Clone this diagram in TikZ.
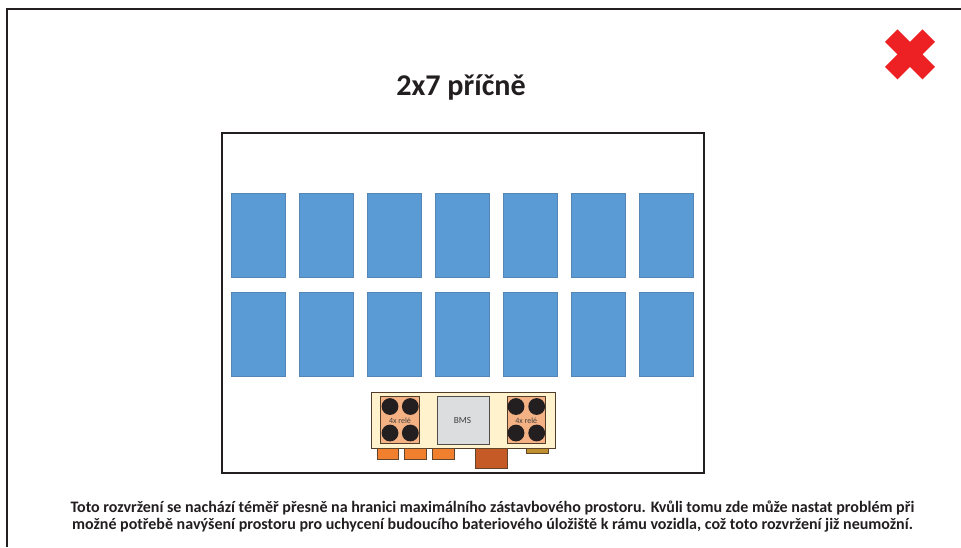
\documentclass[tikz,border=0pt]{standalone}
\usepackage{fontspec}
\setmainfont{Carlito}
\definecolor{frameblack}{HTML}{231F20}
\definecolor{cellblue}{HTML}{5B9BD5}
\definecolor{celledge}{HTML}{5585B5}
\definecolor{cream}{HTML}{FFF2CC}
\definecolor{relayfill}{HTML}{F4B183}
\definecolor{bmsgrey}{HTML}{DCDDDE}
\definecolor{orangeb}{HTML}{F07F2E}
\definecolor{brownb}{HTML}{C55A26}
\definecolor{goldb}{HTML}{BF9030}
\definecolor{crossred}{HTML}{ED2024}
\tikzset{
  box/.style={draw=#1,line width=0.75pt,inner sep=0pt,outer sep=0pt,anchor=north west},
  cell/.style={box=celledge,fill=cellblue,line width=0.5pt,minimum width=40.25pt,minimum height=63.25pt},
  relay/.style={box=frameblack!70!brown,fill=relayfill,minimum width=29pt,minimum height=35.25pt},
  contact/.style={circle,fill=frameblack,inner sep=0pt,outer sep=0pt,minimum size=12.6pt},
  tiny/.style={font=\fontsize{6}{7}\selectfont,text=black!75,inner sep=0pt},
  orangebox/.style={box=frameblack!60!brown,fill=orangeb,minimum width=16.25pt,minimum height=8.75pt},
  para/.style={font=\fontsize{12}{12.75}\bfseries\selectfont,text=frameblack,align=center,inner sep=0pt}
}
\begin{document}
\begin{tikzpicture}[x=0.75pt,y=-0.75pt]
\useasboundingbox (0,0) rectangle (961,547);
\fill[white] (0,0) rectangle (961,547);
% outer frame (open on the right and at the bottom)
\draw[frameblack,line width=1.5pt] (6.5,547) -- (6.5,9) -- (961,9);
% title
\node[inner sep=0pt,text=frameblack] (title) at (461,87.5) {\fontsize{22.6}{26}\bfseries\selectfont 2x7 příčně};
% cross
\fill[crossred] (897.5,29.3) -- (910,41.8) -- (922.5,29.3) -- (935,41.8) -- (922.5,54.3) -- (935,66.8)
  -- (922.5,79.3) -- (910,66.8) -- (897.5,79.3) -- (885,66.8) -- (897.5,54.3) -- (885,41.8) -- cycle;
% storage frame
\node[box=frameblack,line width=1.5pt,fill=white,minimum width=361.5pt,minimum height=255pt] (frame) at (222,133) {};
% cells
\foreach \i/\x in {1/231.5,2/299.5,3/367.5,4/435.5,5/503.5,6/571.5,7/639.5}{
  \node[cell] (top\i) at (\x,193) {};
  \node[cell] (bot\i) at (\x,292) {};
}
% electronics board
\node[box=frameblack!70!brown,fill=cream,minimum width=138pt,minimum height=42pt] (board) at (371,392) {};
\node[relay] (relayL) at (380.5,396) {};
\node[relay] (relayR) at (507,396) {};
\node[box=frameblack!80,fill=bmsgrey,minimum width=39pt,minimum height=36pt] (bms) at (437.5,396) {};
\node[tiny,font=\fontsize{7}{8}\selectfont] (bmstext) at (462.5,420) {BMS};
\node[tiny] (relayLt) at (400,421) {4x relé};
\node[tiny] (relayRt) at (526.3,421) {4x relé};
\foreach \n/\x/\y in {a/390/406.5,b/410.3/406.5,c/390/433,d/410.3/433,e/516/406.5,f/536.7/406.5,g/516/433,h/536.7/433}{
  \node[contact] (c\n) at (\x,\y) {};
}
% connectors on the lower edge
\node[orangebox] (o1) at (377,448) {};
\node[orangebox] (o2) at (404.7,448) {};
\node[orangebox] (o3) at (432.7,448) {};
\node[box=frameblack!60!brown,fill=brownb,minimum width=23.5pt,minimum height=15.25pt] (main) at (475.7,448) {};
\node[box=frameblack!60!brown,fill=goldb,minimum width=16.5pt,minimum height=4pt] (gold) at (526.3,448) {};
% caption
\node[para] (caption) at (492.5,516.5) {Toto rozvržení se nachází téměř přesně na hranici maximálního zástavbového prostoru. Kvůli tomu zde může nastat problém při\\možné potřebě navýšení prostoru pro uchycení budoucího bateriového úložiště k rámu vozidla, což toto rozvržení již neumožní.};
\end{tikzpicture}
\end{document}
